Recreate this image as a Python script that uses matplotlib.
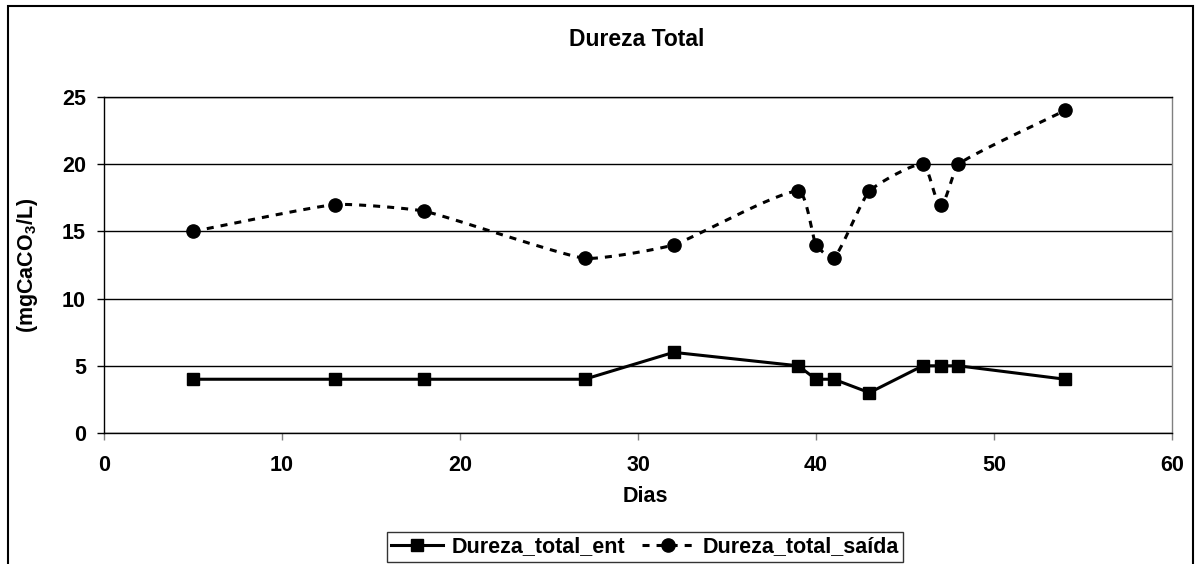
import numpy as np
import matplotlib
matplotlib.use("Agg")
import matplotlib.pyplot as plt
from matplotlib.lines import Line2D
from matplotlib.patches import Rectangle

plt.rcParams['font.family'] = ['Liberation Sans', 'DejaVu Sans']
plt.rcParams['font.weight'] = 'bold'
plt.rcParams['mathtext.fontset'] = 'custom'
plt.rcParams['mathtext.rm'] = 'Liberation Sans:bold'
plt.rcParams['mathtext.bf'] = 'Liberation Sans:bold'

# Days of sampling and total hardness values
dias = [5, 13, 18, 27, 32, 39, 40, 41, 43, 46, 47, 48, 54]
dureza_ent = [4, 4, 4, 4, 6, 5, 4, 4, 3, 5, 5, 5, 4]
dureza_saida = [15, 17, 16.5, 13, 14, 18, 14, 13, 18, 20, 17, 20, 24]

x_ticks = [0, 10, 20, 30, 40, 50, 60]
y_ticks = [0, 5, 10, 15, 20, 25]

FS = 15.5
W, H = 1197, 564
fig = plt.figure(figsize=(W / 100, H / 100), dpi=100)
ax = fig.add_axes([104 / W, 1 - 433 / H, (1172 - 104) / W, (433 - 97) / H])
ax.set_xlim(0, 60)
ax.set_ylim(0, 25)
ax.set_xticks(x_ticks)
ax.set_yticks(y_ticks)
ax.tick_params(axis='both', labelsize=FS, length=5, width=1, direction='out')
ax.tick_params(axis='x', color='#808080', pad=11)
ax.tick_params(axis='y', color='black', pad=8)
for lab in ax.get_xticklabels() + ax.get_yticklabels():
    lab.set_fontweight('bold')

ax.grid(axis='y', color='black', linewidth=1)
ax.set_axisbelow(True)
ax.spines['left'].set_color('black')
ax.spines['bottom'].set_color('black')
ax.spines['top'].set_color('black')
ax.spines['right'].set_color('#808080')
for s in ax.spines.values():
    s.set_linewidth(1)


def smooth_curve(ax, xs, ys, n=30, k=0.15):
    """Bezier smoothing through points, computed in display space,
    with control arms limited relative to each segment's length."""
    pts = ax.transData.transform(np.column_stack([xs, ys]))
    P = np.vstack([pts[0], pts, pts[-1]])
    out = [pts[0]]
    t = np.linspace(0, 1, n)[1:, None]
    for i in range(1, len(P) - 2):
        p0, p3 = P[i], P[i + 1]
        seg = np.linalg.norm(p3 - p0)
        a1 = (P[i + 1] - P[i - 1]) / 6.0
        a2 = (P[i + 2] - P[i]) / 6.0
        for a in (a1, a2):
            na = np.linalg.norm(a)
            if na > k * seg and na > 0:
                a *= k * seg / na
        c1 = p0 + a1
        c2 = p3 - a2
        b = ((1 - t) ** 3) * p0 + 3 * ((1 - t) ** 2) * t * c1 + 3 * (1 - t) * t ** 2 * c2 + t ** 3 * p3
        out.extend(b)
    out = np.array(out)
    return ax.transData.inverted().transform(out)


lw = 2.2
ms_sq, ms_ci = 8.5, 9.5
dash = (0, (2.3, 2.3))
ax.plot(dias, dureza_ent, color='black', linewidth=lw, marker='s', markersize=ms_sq,
        clip_on=False, zorder=3)
curve = smooth_curve(ax, dias, dureza_saida)
ax.plot(curve[:, 0], curve[:, 1], color='black', linewidth=lw,
        linestyle=dash, zorder=3)
ax.plot(dias, dureza_saida, linestyle='none', marker='o', markersize=ms_ci,
        color='black', zorder=4)

fig.text(637 / W, 1 - 40 / H, 'Dureza Total', ha='center', va='center',
         fontsize=16.5, fontweight='bold')
fig.text(645 / W, 1 - 497 / H, 'Dias', ha='center', va='center',
         fontsize=FS, fontweight='bold')
fig.text(28 / W, 1 - 265 / H, r'(mgCaCO$_\mathbf{3}$/L)', ha='center', va='center',
         rotation=90, fontsize=FS, fontweight='bold')

handles = [
    Line2D([], [], color='black', linewidth=lw, marker='s', markersize=ms_sq),
    Line2D([], [], color='black', linewidth=lw, linestyle=dash,
           marker='o', markersize=ms_ci),
]
leg = fig.legend(handles, ['Dureza_total_ent', 'Dureza_total_saída'],
                 loc='center', bbox_to_anchor=(645 / W, 1 - 547 / H), ncol=2,
                 frameon=True, fancybox=False, fontsize=FS, handlelength=2.4,
                 handletextpad=0.4, columnspacing=0.8, borderpad=0.2,
                 borderaxespad=0)
leg.get_frame().set_edgecolor('black')
leg.get_frame().set_linewidth(1)
for t in leg.get_texts():
    t.set_fontweight('bold')

# Outer chart border (bottom edge falls outside the canvas)
fig.patches.append(Rectangle((7.5 / W, -0.05), (1193 - 7.5) / W, 1 - 6 / H + 0.05,
                             transform=fig.transFigure, fill=False,
                             edgecolor='black', linewidth=1.5, zorder=0))

fig.savefig('out.png', dpi=100)
